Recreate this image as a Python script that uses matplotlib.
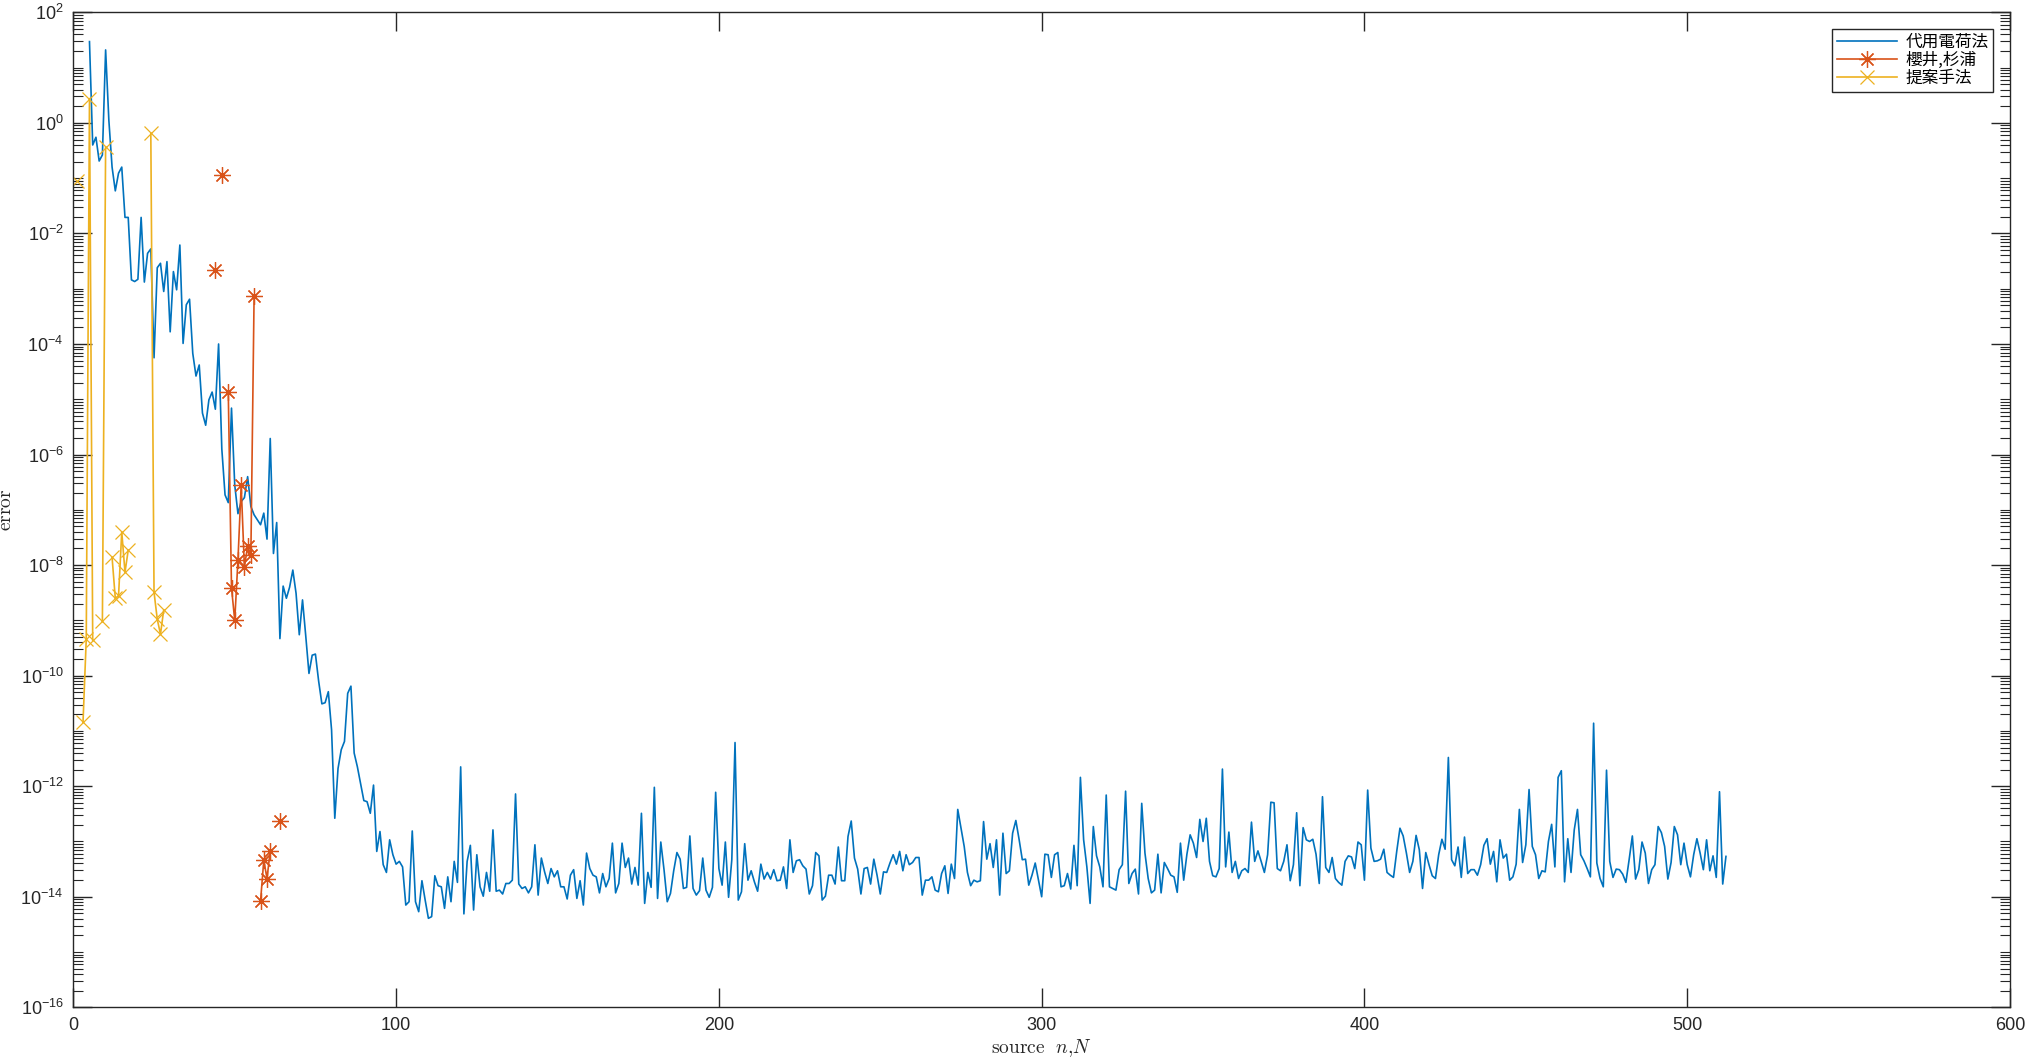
import numpy as np
import matplotlib
matplotlib.use('Agg')
import matplotlib.pyplot as plt
from matplotlib.ticker import FixedLocator, LogFormatterSciNotation, NullFormatter

plt.rcParams['font.family'] = ['Liberation Sans', 'DejaVu Sans']
plt.rcParams['mathtext.fontset'] = 'custom'
plt.rcParams['mathtext.rm'] = 'Liberation Sans'
plt.rcParams['mathtext.it'] = 'Liberation Sans:italic'

AX_COLOR = '#262626'

# log10 of the error
# 代用電荷法 : n = 5 .. 512
dcm_n = np.arange(5, 513)
dcm_log = [
    1.47, -0.40, -0.26, -0.69, -0.58,
    1.32, 0.05, -0.80, -1.23, -0.91, -0.80, -1.71, -1.71, -2.84, -2.87,
    -2.83, -1.71, -2.88, -2.36, -2.28, -4.25, -2.62, -2.54, -3.05, -2.51,
    -3.78, -2.69, -3.02, -2.21, -3.99, -3.29, -3.19, -4.17, -4.58, -4.38,
    -5.25, -5.47, -5.01, -4.87, -5.18, -4.00, -5.90, -6.73, -6.87, -5.16,
    -6.55, -7.07, -6.85, -6.78, -6.40, -6.94, -7.09, -7.18, -7.27, -7.06,
    -7.53, -5.71, -7.79, -7.23, -9.33, -8.38, -8.60, -8.40, -8.09, -8.51,
    -9.26, -8.63, -9.28, -9.96, -9.63, -9.61, -10.10, -10.51, -10.49, -10.29,
    -10.98, -12.58, -11.68, -11.34, -11.19, -10.32, -10.19, -11.40, -11.65, -11.95,
    -12.26, -12.28, -12.49, -11.98, -13.18, -12.82, -13.42, -13.56, -12.97, -13.24,
    # 100
    -13.41, -13.36, -13.46, -14.15, -14.09, -12.81, -14.09, -14.27, -13.71, -14.06,
    -14.39, -14.36, -13.62, -13.80, -13.82, -14.21, -13.64, -14.09, -13.36, -13.74,
    -11.65, -14.31, -13.36, -13.07, -14.24, -13.24, -13.82, -13.99, -13.56, -13.90,
    -12.79, -13.90, -13.88, -13.95, -13.76, -13.76, -13.70, -12.14, -13.77, -13.85,
    -13.82, -13.93, -13.82, -13.06, -13.97, -13.30, -13.55, -13.76, -13.49, -13.64,
    -13.53, -13.82, -13.82, -14.04, -13.61, -13.51, -14.03, -13.71, -14.15, -13.21,
    -13.49, -13.61, -13.64, -13.93, -13.58, -13.82, -13.67, -13.03, -13.93, -13.76,
    -13.03, -13.47, -13.30, -13.77, -13.47, -13.79, -12.49, -14.12, -13.56, -13.83,
    -12.02, -14.03, -13.01, -13.51, -14.09, -13.94, -13.53, -13.20, -13.32, -13.85,
    -13.83, -12.90, -13.85, -13.97, -13.89, -13.30, -13.88, -14.01, -13.83, -12.11,
    # 200
    -13.49, -13.79, -13.01, -14.01, -13.33, -11.21, -14.06, -13.91, -13.04, -13.70,
    -13.53, -13.73, -13.90, -13.41, -13.68, -13.56, -13.68, -13.51, -13.71, -13.70,
    -13.46, -13.85, -12.97, -13.56, -13.35, -13.33, -13.44, -13.50, -13.95, -13.80,
    -13.20, -13.26, -14.06, -13.99, -13.61, -13.61, -13.77, -13.10, -13.71, -13.71,
    -12.91, -12.63, -13.30, -13.50, -13.95, -13.49, -13.47, -13.77, -13.32, -13.61,
    -13.95, -13.55, -13.56, -13.39, -13.24, -13.41, -13.18, -13.53, -13.24, -13.42,
    -13.38, -13.29, -13.29, -13.97, -13.70, -13.70, -13.64, -13.88, -13.91, -13.58,
    -13.44, -13.94, -13.41, -13.67, -12.42, -12.76, -13.09, -13.56, -13.80, -13.70,
    -13.73, -13.71, -12.64, -13.32, -13.04, -13.47, -12.97, -13.97, -12.85, -13.58,
    -13.53, -12.85, -12.62, -12.96, -13.33, -13.32, -13.79, -13.61, -13.39, -13.70,
    # 300
    -14.00, -13.23, -13.24, -13.65, -13.24, -13.20, -13.82, -13.80, -13.58, -13.86,
    -13.07, -13.80, -11.84, -12.97, -13.46, -14.12, -12.73, -13.26, -13.46, -13.82,
    -12.16, -13.82, -13.85, -13.88, -13.51, -13.42, -12.09, -13.76, -13.58, -13.50,
    -13.95, -12.31, -13.21, -13.67, -13.93, -13.88, -13.23, -13.93, -13.38, -13.49,
    -13.61, -13.64, -13.92, -13.03, -13.70, -13.23, -12.88, -13.03, -13.29, -12.60,
    -13.00, -12.58, -13.36, -13.62, -13.64, -13.49, -11.69, -13.46, -12.83, -13.56,
    -13.36, -13.67, -13.53, -13.49, -13.56, -12.65, -13.36, -13.17, -13.36, -13.56,
    -13.24, -12.29, -12.30, -13.49, -13.53, -13.36, -13.06, -13.71, -13.42, -12.48,
    -13.80, -12.75, -12.97, -13.00, -12.96, -13.23, -13.76, -12.19, -13.47, -13.56,
    -13.29, -13.67, -13.74, -13.79, -13.36, -13.26, -13.28, -13.49, -13.01, -13.06,
    # 400
    -13.70, -12.07, -13.12, -13.36, -13.35, -13.32, -13.14, -13.56, -13.61, -13.65,
    -13.18, -12.76, -12.90, -13.21, -13.56, -13.36, -12.89, -13.15, -13.85, -13.20,
    -13.42, -13.62, -13.67, -13.24, -12.96, -13.14, -11.48, -13.33, -13.44, -13.10,
    -13.65, -12.92, -13.58, -13.51, -13.51, -13.61, -13.42, -13.07, -12.95, -13.41,
    -13.18, -13.73, -12.97, -13.30, -13.23, -13.70, -13.64, -13.41, -12.42, -13.38,
    -13.06, -12.06, -13.09, -13.24, -13.67, -13.53, -13.55, -13.00, -12.69, -13.46,
    -11.84, -11.72, -13.73, -12.95, -13.56, -12.79, -12.42, -13.24, -13.35, -13.49,
    -13.64, -10.86, -13.39, -13.67, -13.82, -11.71, -13.36, -13.65, -13.50, -13.51,
    -13.59, -13.74, -13.33, -12.90, -13.68, -13.51, -13.01, -13.21, -13.76, -13.51,
    -13.42, -12.73, -12.84, -13.09, -13.68, -13.38, -12.73, -12.88, -13.42, -13.03,
    # 500
    -13.42, -13.64, -13.24, -12.95, -13.21, -13.51, -12.97, -13.53, -13.26, -13.65,
    -12.10, -13.77, -13.27,
]

# 櫻井,杉浦
sakurai_n = [44, 46, 48, 49, 50, 51, 52, 53, 54, 55, 56, 58, 59, 60, 61, 64]
sakurai_log = [-2.67, -0.94, -4.87, -8.41, -9.00, -7.91, -6.56, -8.04,
               -7.65, -7.82, -3.13, -14.08, -13.34, -13.67, -13.17, -12.63]

# 提案手法
proposed_n = [1, 3, 4, 5, 6, 9, 10, 12, 13, 14, 15, 16, 17, 24, 25, 26, 27, 28]
proposed_log = [-1.06, -10.84, -9.34, 0.44, -9.36, -9.02, -0.44, -7.86, -8.60,
                -8.56, -7.40, -8.13, -7.73, -0.19, -8.49, -8.98, -9.25, -8.81]

labels = ['代用電荷法', '櫻井,杉浦', '提案手法']


def with_gaps(n, logs):
    # missing n becomes NaN so the line breaks there
    full_n = np.arange(min(n), max(n) + 1)
    vals = np.full(len(full_n), np.nan)
    for k, v in zip(n, logs):
        vals[k - full_n[0]] = 10.0 ** v
    return full_n, vals


fig = plt.figure(figsize=(20.26, 10.62), dpi=100)
ax = fig.add_axes([0.0362, 0.0515, 0.9559, 0.9369])

ax.plot(dcm_n, 10.0 ** np.array(dcm_log), color='#0072BD', lw=1.2, label=labels[0])
x, y = with_gaps(sakurai_n, sakurai_log)
ax.plot(x, y, color='#D95319', lw=1.2, marker=(8, 2, 0), ms=12, mew=0.9, label=labels[1])
x, y = with_gaps(proposed_n, proposed_log)
ax.plot(x, y, color='#EDB120', lw=1.2, marker='x', ms=10, mew=0.9, label=labels[2])

ax.set_yscale('log')
ax.set_xlim(0, 600)
ax.set_ylim(1e-16, 1e2)
ax.set_xticks(range(0, 601, 100))

major = [10.0 ** e for e in range(-16, 3, 2)]
minor = [k * 10.0 ** d for d in range(-16, 2) for k in range(1, 10)
         if not (k == 1 and d % 2 == 0)]
ax.yaxis.set_major_locator(FixedLocator(major))
ax.yaxis.set_major_formatter(LogFormatterSciNotation())
ax.yaxis.set_minor_locator(FixedLocator(minor))
ax.yaxis.set_minor_formatter(NullFormatter())

ax.tick_params(which='both', direction='in', top=True, right=True, colors=AX_COLOR)
ax.tick_params(which='major', length=14, width=1.0, labelsize=13, pad=7)
ax.tick_params(which='minor', length=7, width=0.8)
for s in ax.spines.values():
    s.set_color(AX_COLOR)
    s.set_linewidth(1.0)

ax.set_xlabel(r'$\mathrm{source}\ \ n{,}N$', fontsize=14, color=AX_COLOR,
              math_fontfamily='cm', labelpad=2)
ax.set_ylabel(r'$\mathrm{error}$', fontsize=14, color=AX_COLOR,
              math_fontfamily='cm', labelpad=4)

leg = ax.legend(loc='upper right', fancybox=False, framealpha=1, edgecolor=AX_COLOR,
                prop={'family': ['Noto Sans CJK JP', 'DejaVu Sans'], 'size': 12},
                handlelength=3.6, labelspacing=0.05, borderaxespad=1.0,
                borderpad=0.3, handletextpad=0.5)
leg.get_frame().set_linewidth(1.0)

fig.savefig('out.png', dpi=100)
